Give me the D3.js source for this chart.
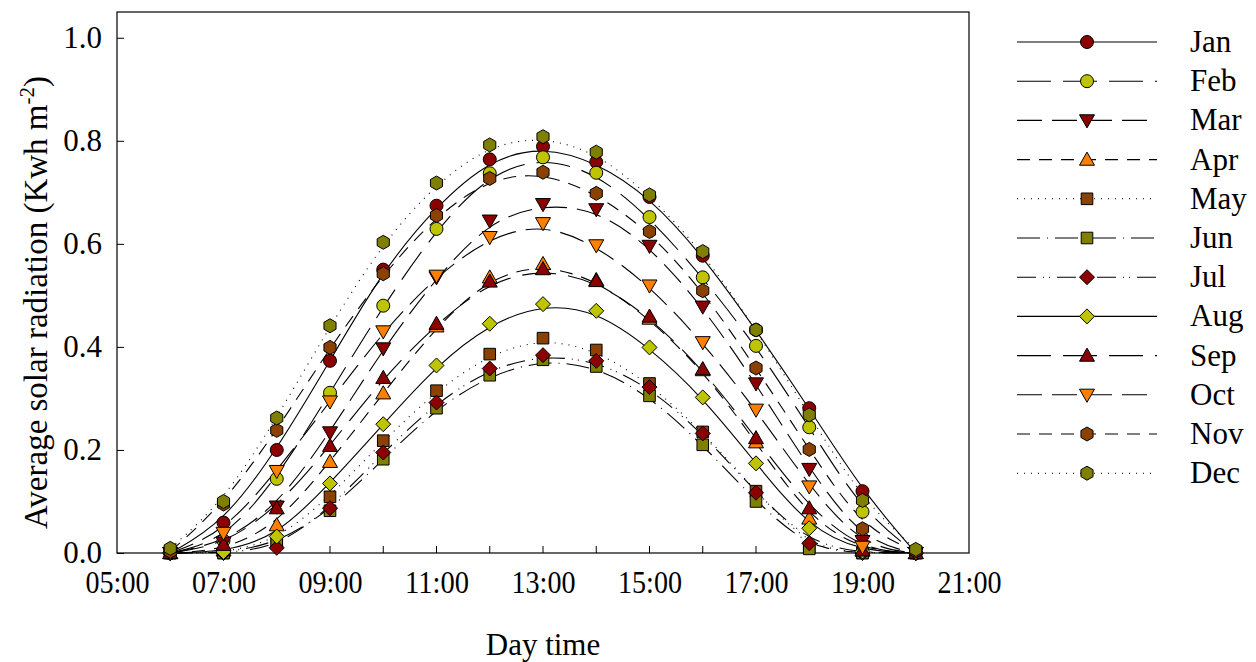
<!DOCTYPE html>
<html>
<head>
<meta charset="utf-8">
<script src="https://cdn.jsdelivr.net/npm/d3@7"></script>
<style>
  body { margin: 0; background: #fff; }
  text { font-family: "Liberation Serif", "Times New Roman", serif; }
</style>
</head>
<body>
<div id="chart"></div>
<script>
const width = 1256;
const height = 662;

const hours = [6, 7, 8, 9, 10, 11, 12, 13, 14, 15, 16, 17, 18, 19, 20];
const months = ['Jan', 'Feb', 'Mar', 'Apr', 'May', 'Jun', 'Jul', 'Aug', 'Sep', 'Oct', 'Nov', 'Dec'];

const jan = [0, 0.059, 0.200, 0.373, 0.550, 0.674, 0.764, 0.789, 0.759, 0.691, 0.577, 0.433, 0.281, 0.120, 0];
const feb = [0, 0.024, 0.144, 0.311, 0.480, 0.629, 0.737, 0.768, 0.738, 0.652, 0.535, 0.402, 0.244, 0.080, 0];
const mar = [0, 0.020, 0.090, 0.234, 0.397, 0.535, 0.645, 0.677, 0.667, 0.596, 0.478, 0.329, 0.163, 0.023, 0];
const apr = [0, 0.005, 0.054, 0.177, 0.310, 0.440, 0.535, 0.561, 0.530, 0.455, 0.355, 0.215, 0.067, 0.005, 0];
const may = [0, 0, 0.024, 0.109, 0.218, 0.315, 0.386, 0.417, 0.394, 0.329, 0.235, 0.120, 0.010, 0, 0];
const jun = [0, 0, 0.018, 0.082, 0.182, 0.281, 0.345, 0.375, 0.362, 0.305, 0.210, 0.100, 0.008, 0, 0];
const jul = [0, 0, 0.010, 0.087, 0.195, 0.292, 0.358, 0.384, 0.373, 0.322, 0.232, 0.117, 0.019, 0, 0];
const aug = [0, 0.002, 0.032, 0.135, 0.250, 0.364, 0.445, 0.483, 0.470, 0.399, 0.302, 0.174, 0.048, 0.003, 0];
const sep = [0, 0.016, 0.087, 0.208, 0.340, 0.445, 0.527, 0.551, 0.528, 0.459, 0.357, 0.223, 0.087, 0.005, 0];
const oct = [0, 0.039, 0.159, 0.294, 0.430, 0.538, 0.613, 0.640, 0.597, 0.519, 0.409, 0.278, 0.129, 0.012, 0];
const nov = [0.003, 0.095, 0.238, 0.399, 0.542, 0.655, 0.727, 0.739, 0.698, 0.624, 0.509, 0.359, 0.201, 0.047, 0.004];
const dec = [0.009, 0.100, 0.262, 0.441, 0.603, 0.718, 0.792, 0.808, 0.778, 0.695, 0.585, 0.433, 0.268, 0.102, 0.007];

const values = [jan, feb, mar, apr, may, jun, jul, aug, sep, oct, nov, dec];

const xTicks = [5, 7, 9, 11, 13, 15, 17, 19, 21];
const yTicks = [0, 0.2, 0.4, 0.6, 0.8, 1.0];

// styles, one per month
const darkRed = '#8b0000', yellowGreen = '#bfc400', orange = '#ff8000', brown = '#8b4200', olive = '#808000';
const fills = [darkRed, yellowGreen, darkRed, orange, brown, olive, darkRed, yellowGreen, darkRed, orange, brown, olive];
const shapes = ['circle', 'circle', 'tdown', 'tup', 'square', 'square', 'diamond', 'diamond', 'tup', 'tdown', 'hex', 'hex'];
const dashes = ['none', '34,12', '25,10', '13,9', '1,6', '23,7,1,7', '19,7,1,5,1,7',
                'none', '34,12', '25,10', '13,9', '1,6'];

const plotL = 117, plotR = 969, plotT = 12, plotB = 553;
const fs = 31;

const x = d3.scaleLinear().domain([5, 21]).range([plotL, plotR]);
const y = d3.scaleLinear().domain([0, 1.05]).range([plotB, plotT]);

const svg = d3.select('#chart').append('svg')
  .attr('width', width)
  .attr('height', height);

function markerPath(shape) {
  const r = 6.5;
  if (shape === 'circle') {
    return `M${-r},0A${r},${r} 0 1,0 ${r},0A${r},${r} 0 1,0 ${-r},0Z`;
  }
  if (shape === 'square') {
    const s = 5.8;
    return `M${-s},${-s}H${s}V${s}H${-s}Z`;
  }
  if (shape === 'diamond') {
    const s = 7.5;
    return `M0,${-s}L${s},0L0,${s}L${-s},0Z`;
  }
  if (shape === 'tup') {
    const s = 7.5;
    return `M0,${-s}L${s},${s * 0.75}L${-s},${s * 0.75}Z`;
  }
  if (shape === 'tdown') {
    const s = 7.5;
    return `M0,${s}L${s},${-s * 0.75}L${-s},${-s * 0.75}Z`;
  }
  // hexagon, pointy top
  const pts = d3.range(6).map(i => {
    const a = Math.PI / 3 * i - Math.PI / 2;
    return [7 * Math.cos(a), 7 * Math.sin(a)];
  });
  return 'M' + pts.map(p => p.join(',')).join('L') + 'Z';
}

// frame
svg.append('rect')
  .attr('x', plotL).attr('y', plotT)
  .attr('width', plotR - plotL).attr('height', plotB - plotT)
  .attr('fill', 'none').attr('stroke', '#000').attr('stroke-width', 1.2);

// x axis
const xAxis = d3.axisBottom(x).tickValues(xTicks)
  .tickFormat(d => String(d).padStart(2, '0') + ':00')
  .tickSize(0).tickPadding(18);
const gx = svg.append('g').attr('transform', `translate(0,${plotB})`).call(xAxis);
gx.select('.domain').remove();
gx.selectAll('text')
  .attr('font-size', fs).attr('font-family', 'Liberation Serif').attr('fill', '#000')
  .attr('textLength', 64).attr('lengthAdjust', 'spacingAndGlyphs');

svg.append('g').selectAll('line')
  .data(d3.range(6, 21))
  .enter().append('line')
  .attr('x1', d => x(d)).attr('x2', d => x(d))
  .attr('y1', plotB).attr('y2', plotB - 7)
  .attr('stroke', '#000');

// y axis
const yAxis = d3.axisLeft(y).tickValues(yTicks)
  .tickFormat(d3.format('.1f'))
  .tickSizeInner(-7).tickSizeOuter(0).tickPadding(12);
const gy = svg.append('g').attr('transform', `translate(${plotL - 3},0)`).call(yAxis);
gy.select('.domain').remove();
gy.selectAll('line').attr('transform', 'translate(3,0)');
gy.selectAll('text').attr('font-size', fs).attr('font-family', 'Liberation Serif').attr('fill', '#000');

// lines
const line = d3.line()
  .x((d, i) => x(hours[i]))
  .y(d => y(d))
  .curve(d3.curveBasis);

values.forEach((vals, k) => {
  svg.append('path')
    .datum(vals)
    .attr('d', line)
    .attr('fill', 'none')
    .attr('stroke', '#000')
    .attr('stroke-width', 1.1)
    .attr('stroke-dasharray', dashes[k]);
});

values.forEach((vals, k) => {
  svg.append('g').selectAll('path')
    .data(vals)
    .enter().append('path')
    .attr('d', markerPath(shapes[k]))
    .attr('transform', (d, i) => `translate(${x(hours[i])},${y(d)})`)
    .attr('fill', fills[k])
    .attr('stroke', '#000')
    .attr('stroke-width', 1);
});

// legend
const legend = svg.append('g');
months.forEach((m, k) => {
  const ly = 42 + k * 39.2;
  legend.append('line')
    .attr('x1', 1017).attr('x2', 1157)
    .attr('y1', ly).attr('y2', ly)
    .attr('stroke', '#000').attr('stroke-width', 1.1)
    .attr('stroke-dasharray', dashes[k]);
  legend.append('path')
    .attr('d', markerPath(shapes[k]))
    .attr('transform', `translate(1087,${ly})`)
    .attr('fill', fills[k]).attr('stroke', '#000');
  legend.append('text')
    .attr('x', 1190).attr('y', ly + 10)
    .attr('font-size', fs)
    .text(m);
});

// axis titles
svg.append('text')
  .attr('x', 543).attr('y', 655)
  .attr('text-anchor', 'middle')
  .attr('font-size', fs)
  .text('Day time');

const yt = svg.append('text')
  .attr('transform', `translate(47,${(plotT + plotB) / 2 + 20}) rotate(-90)`)
  .attr('text-anchor', 'middle')
  .attr('font-size', 33);
yt.append('tspan').text('Average solar radiation (Kwh m');
yt.append('tspan').attr('font-size', 21).attr('dy', -13).text('-2');
yt.append('tspan').attr('dy', 13).text(')');
</script>
</body>
</html>
